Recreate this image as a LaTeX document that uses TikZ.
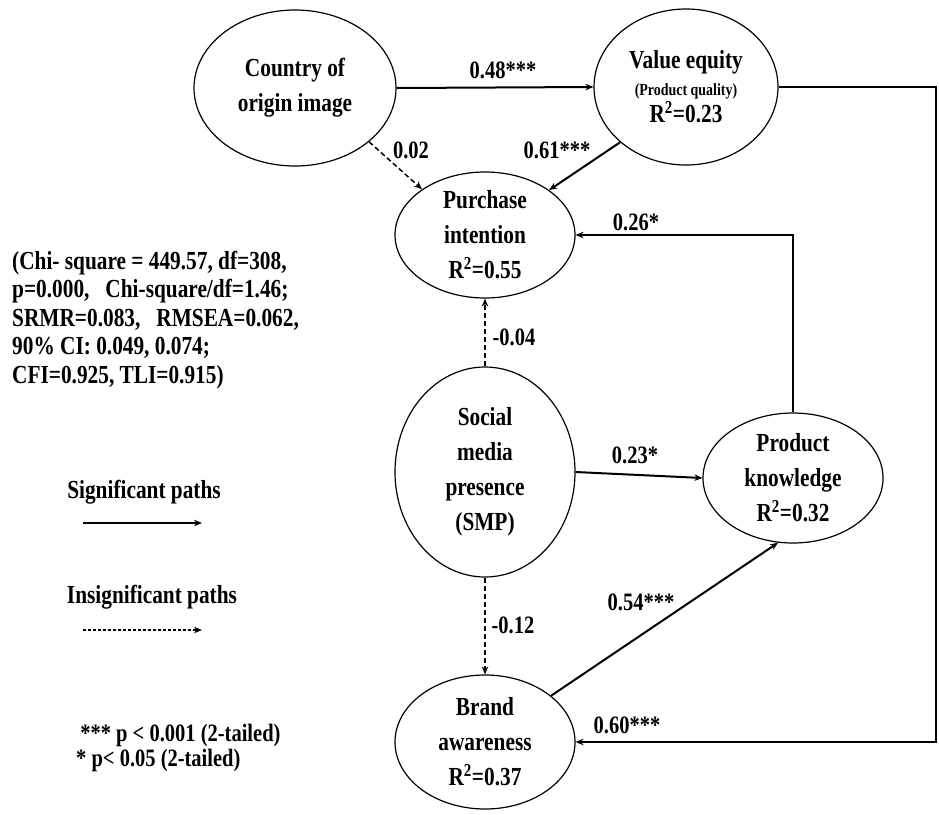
\documentclass[tikz,border=0pt]{standalone}
\usepackage{fontspec}
\setmainfont{Liberation Serif}[FakeStretch=0.82]
\usetikzlibrary{arrows.meta,shapes.geometric}
\tikzset{
  construct/.style={draw, ellipse, line width=1.2pt, inner sep=0pt, align=center,
    font=\fontsize{26}{35}\selectfont\bfseries},
  sig/.style={line width=2pt, -{Stealth[length=8pt,width=6.5pt]}},
  insig/.style={line width=1.5pt, dash pattern=on 5pt off 3pt, -{Stealth[length=8pt,width=6.5pt]}},
  legdash/.style={line width=1.5pt, dash pattern=on 3pt off 2pt, -{Stealth[length=8pt,width=6.5pt]}},
  coef/.style={font=\fontsize{25}{28}\selectfont\bfseries, inner sep=0pt},
  legend/.style={font=\fontsize{26}{28.5}\selectfont\bfseries, inner sep=0pt, align=left},
}
\newcommand{\rsq}{R\textsuperscript{2}}
\begin{document}
\begin{tikzpicture}[x=1pt,y=-1pt]
\useasboundingbox (0,0) rectangle (939,814);

\node[construct, minimum width=202pt, minimum height=156pt] (coi) at (295,88) {Country of\\origin image};
\node[construct, minimum width=184pt, minimum height=156pt] (ve) at (686,87)
  {Value equity\\[-8pt]{\fontsize{17}{20}\selectfont (Product quality)}\\[-8pt]\rsq=0.23};
\node[construct, minimum width=180pt, minimum height=126pt] (pi) at (485,235) {Purchase\\intention\\\rsq=0.55};
\node[construct, minimum width=180pt, minimum height=210pt] (smp) at (485,472) {Social\\media\\presence\\(SMP)};
\node[construct, minimum width=180pt, minimum height=130pt] (pk) at (793,478) {Product\\knowledge\\\rsq=0.32};
\node[construct, minimum width=180pt, minimum height=134pt] (ba) at (485,742) {Brand\\awareness\\\rsq=0.37};

\coordinate (rc) at (936,742);

\draw[sig] (coi.east) -- (ve.west);
\draw[insig] (coi.-36) -- (pi.144);
\draw[sig] (ve.220) -- (pi.35);
\draw[sig] (pk.north) |- (pi.east);
\draw[insig] (smp.north) -- (pi.south);
\draw[sig] (smp.east) -- (pk.west);
\draw[insig] (smp.south) -- (ba.north);
\draw[sig] (ba.35) -- (pk.-103);
\draw[sig] (ve.east) -| (rc) -- (ba.east);

\node[coef] (l1) at (503,70) {0.48***};
\node[coef] (l2) at (411,150) {0.02};
\node[coef] (l3) at (557,150) {0.61***};
\node[coef] (l4) at (636,222) {0.26*};
\node[coef] (l5) at (514,337) {-0.04};
\node[coef] (l6) at (635,455) {0.23*};
\node[coef] (l7) at (641,602) {0.54***};
\node[coef] (l8) at (513,625) {-0.12};
\node[coef] (l9) at (627,725) {0.60***};

\node[legend, anchor=west] (fit) at (12,320)
  {(Chi- square = 449.57, df=308,\\
   p=0.000,\ \ \ Chi-square/df=1.46;\\
   SRMR=0.083,\ \ \ RMSEA=0.062,\\
   90\% CI: 0.049, 0.074;\\
   CFI=0.925, TLI=0.915)};

\node[legend] (sigt) at (144,492) {Significant paths};
\coordinate (sa) at (83,523);
\coordinate (sb) at (202,523);
\draw[sig] (sa) -- (sb);
\node[legend] (insigt) at (152,597) {Insignificant paths};
\coordinate (ia) at (83,630);
\coordinate (ib) at (202,630);
\draw[legdash] (ia) -- (ib);

\node[legend, anchor=west, font=\fontsize{25}{25}\selectfont\bfseries] (pv) at (76,748)
  {\,*** p {\textless} 0.001 (2-tailed)\\
   * p{\textless} 0.05 (2-tailed)};
\end{tikzpicture}
\end{document}
